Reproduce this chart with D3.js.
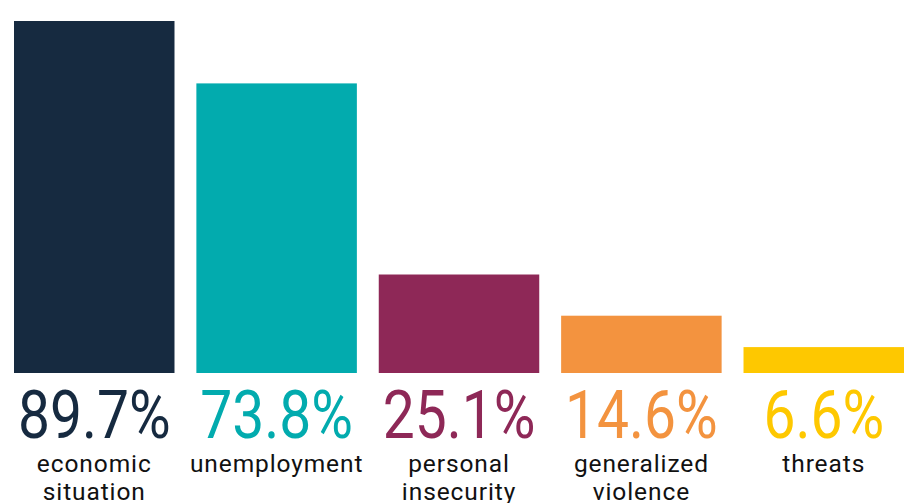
<!DOCTYPE html>
<html>
<head>
<meta charset="utf-8">
<script src="https://cdn.jsdelivr.net/npm/d3@7"></script>
<style>
  html, body { margin: 0; padding: 0; background: #ffffff; }
  svg { display: block; }
</style>
</head>
<body>
<svg id="chart" width="904" height="503"></svg>
<script>
// ---- data ----
const categories = ["economic situation", "unemployment", "personal insecurity", "generalized violence", "threats"];
const labelLines = [["economic", "situation"], ["unemployment"], ["personal", "insecurity"], ["generalized", "violence"], ["threats"]];
const values = [89.7, 73.8, 25.1, 14.6, 6.6];
const colors = ["#162a40", "#02abae", "#8e2857", "#f3933f", "#fec800"];

// ---- layout ----
const baseY = 373, topY = 21;
const svg = d3.select("#chart");

const x = d3.scaleBand().domain(categories).range([14, 904]).paddingInner(0.12).paddingOuter(0);
const y = d3.scaleLinear().domain([0, d3.max(values)]).range([baseY, topY]);

const data = categories.map((c, i) => ({ c, v: values[i], color: colors[i], lines: labelLines[i] }));

svg.selectAll("rect.bar").data(data).join("rect")
  .attr("class", "bar")
  .attr("x", d => x(d.c))
  .attr("y", d => y(d.v))
  .attr("width", x.bandwidth())
  .attr("height", d => y(0) - y(d.v))
  .attr("fill", d => d.color);

// percentage labels
const pct = svg.selectAll("g.pct").data(data).join("g")
  .attr("class", "pct")
  .attr("transform", d => `translate(${x(d.c) + x.bandwidth() / 2},438) scale(0.85,1)`);
pct.append("text")
  .attr("text-anchor", "middle")
  .attr("font-family", "Roboto, sans-serif")
  .attr("font-weight", 400)
  .attr("font-size", 67)
  .attr("fill", d => d.color)
  .text(d => d.v.toFixed(1) + "%");

// category labels
const lab = svg.selectAll("text.cat").data(data).join("text")
  .attr("class", "cat")
  .attr("text-anchor", "middle")
  .attr("font-family", "Roboto, sans-serif")
  .attr("font-size", 24.5)
  .attr("letter-spacing", 0.9)
  .attr("fill", "#111111")
  .attr("transform", d => `translate(${x(d.c) + x.bandwidth() / 2},472)`);
lab.selectAll("tspan").data(d => d.lines).join("tspan")
  .attr("x", 0)
  .attr("dy", (d, i) => i === 0 ? 0 : 27.5)
  .text(d => d);
</script>
</body>
</html>
